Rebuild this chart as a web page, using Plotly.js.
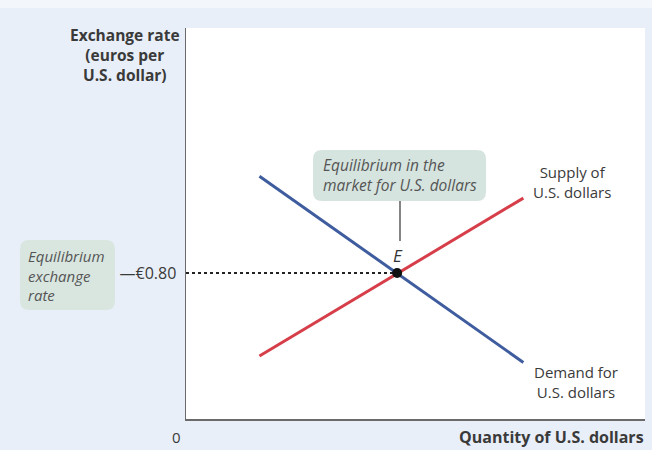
<!DOCTYPE html>
<html><head><meta charset="utf-8">
<script src="https://cdn.plot.ly/plotly-3.0.1.min.js"></script>
<style>html,body{margin:0;padding:0;background:#e9eff8;}</style>
</head><body>
<div id="chart" style="width:652px;height:450px;"></div>
<script>
// Data
const demandX = [1.6, 7.35];
const demandY = [1.33, 0.31];
const supplyX = [1.6, 7.35];
const supplyY = [0.345, 1.21];
const eqX = [4.6];
const eqY = [0.8];
const refX = [0, 4.6];
const refY = [0.8, 0.8];
const yTickVals = [0.8];
const yTickText = ['—€0.80'];

const W = 652, H = 450;
const L = 186, R = 7, T = 28, B = 31;
const pw = W - L - R, ph = H - T - B;
function px(x){ return (x - L) / pw; }
function py(y){ return (H - B - y) / ph; }
function roundRect(x0, y0, x1, y1, r){
  const X0 = px(x0), X1 = px(x1), Y0 = py(y0), Y1 = py(y1);
  const rx = r / pw, ry = r / ph;
  return 'M ' + (X0+rx) + ' ' + Y0 + ' L ' + (X1-rx) + ' ' + Y0 +
    ' Q ' + X1 + ' ' + Y0 + ' ' + X1 + ' ' + (Y0-ry) +
    ' L ' + X1 + ' ' + (Y1+ry) + ' Q ' + X1 + ' ' + Y1 + ' ' + (X1-rx) + ' ' + Y1 +
    ' L ' + (X0+rx) + ' ' + Y1 + ' Q ' + X0 + ' ' + Y1 + ' ' + X0 + ' ' + (Y1+ry) +
    ' L ' + X0 + ' ' + (Y0-ry) + ' Q ' + X0 + ' ' + Y0 + ' ' + (X0+rx) + ' ' + Y0 + ' Z';
}

const font = 'Open Sans, Liberation Sans, sans-serif';
const txt = '#3a3a3a';

const traces = [
  {x: refX, y: refY, mode: 'lines', line: {color: '#222', width: 2, dash: 'dot'}, hoverinfo: 'skip'},
  {x: demandX, y: demandY, mode: 'lines', line: {color: '#3e5c9e', width: 3}},
  {x: supplyX, y: supplyY, mode: 'lines', line: {color: '#d63f4a', width: 3}},
  {x: eqX, y: eqY, mode: 'markers', marker: {color: '#111', size: 10}}
];

const layout = {
  width: W, height: H,
  margin: {l: L, r: R, t: T, b: B},
  paper_bgcolor: '#e9eff8',
  plot_bgcolor: '#ffffff',
  showlegend: false,
  font: {family: font, color: txt, size: 14},
  xaxis: {range: [0, 10], showline: true, linecolor: '#6a6a6a', linewidth: 1.5,
    showgrid: false, zeroline: false, showticklabels: false, ticks: '', fixedrange: true},
  yaxis: {range: [0, 2.142], showline: true, linecolor: '#6a6a6a', linewidth: 1.5,
    showgrid: false, zeroline: false, ticks: '', tickvals: yTickVals, ticktext: yTickText,
    ticklabelstandoff: 5, tickfont: {size: 16, color: txt, family: font}, fixedrange: true},
  shapes: [
    {type: 'rect', xref: 'paper', yref: 'paper', x0: px(0), x1: px(W), y0: py(0), y1: py(8),
     fillcolor: '#f3f6fb', line: {width: 0}, layer: 'below'},
    {type: 'path', xref: 'paper', yref: 'paper', path: roundRect(20, 240, 115, 310, 9),
     fillcolor: '#d9e6e0', line: {width: 0}},
    {type: 'path', xref: 'paper', yref: 'paper', path: roundRect(313, 150, 486, 201, 9),
     fillcolor: '#d6e4df', line: {width: 0}},
    {type: 'line', xref: 'paper', yref: 'paper', x0: px(400), x1: px(400), y0: py(201), y1: py(241),
     line: {color: '#333', width: 1.2}}
  ],
  annotations: [
    {xref: 'paper', yref: 'paper', x: px(125), y: py(22), xanchor: 'center', yanchor: 'top',
     showarrow: false, align: 'center',
     text: '<b>Exchange rate<br>(euros per<br>U.S. dollar)</b>', font: {size: 15.5, color: txt}},
    {xref: 'paper', yref: 'paper', x: px(646), y: py(437), xanchor: 'right', yanchor: 'middle',
     showarrow: false, text: '<b>Quantity of U.S. dollars</b>', font: {size: 16, color: txt}},
    {xref: 'paper', yref: 'paper', x: px(176), y: py(437), xanchor: 'center', yanchor: 'middle',
     showarrow: false, text: '0', font: {size: 15, color: txt}},
    {xref: 'paper', yref: 'paper', x: px(26), y: py(275), xanchor: 'left', yanchor: 'middle',
     showarrow: false, align: 'left', text: '<i>Equilibrium<br>exchange<br>rate</i>',
     font: {size: 15, color: '#555'}},
    {xref: 'paper', yref: 'paper', x: px(321), y: py(175), xanchor: 'left', yanchor: 'middle',
     showarrow: false, align: 'left', text: '<i>Equilibrium in the<br>market for U.S. dollars</i>',
     font: {size: 15.5, color: '#555'}},
    {xref: 'paper', yref: 'paper', x: px(398), y: py(255), xanchor: 'center', yanchor: 'middle',
     showarrow: false, text: '<i>E</i>', font: {size: 17, color: '#333'}},
    {xref: 'paper', yref: 'paper', x: px(572), y: py(182), xanchor: 'center', yanchor: 'middle',
     showarrow: false, align: 'center', text: 'Supply of<br>U.S. dollars', font: {size: 15, color: txt}},
    {xref: 'paper', yref: 'paper', x: px(576), y: py(382), xanchor: 'center', yanchor: 'middle',
     showarrow: false, align: 'center', text: 'Demand for<br>U.S. dollars', font: {size: 15, color: txt}}
  ]
};

Plotly.newPlot('chart', traces, layout, {displayModeBar: false, staticPlot: true});
</script>
</body></html>
